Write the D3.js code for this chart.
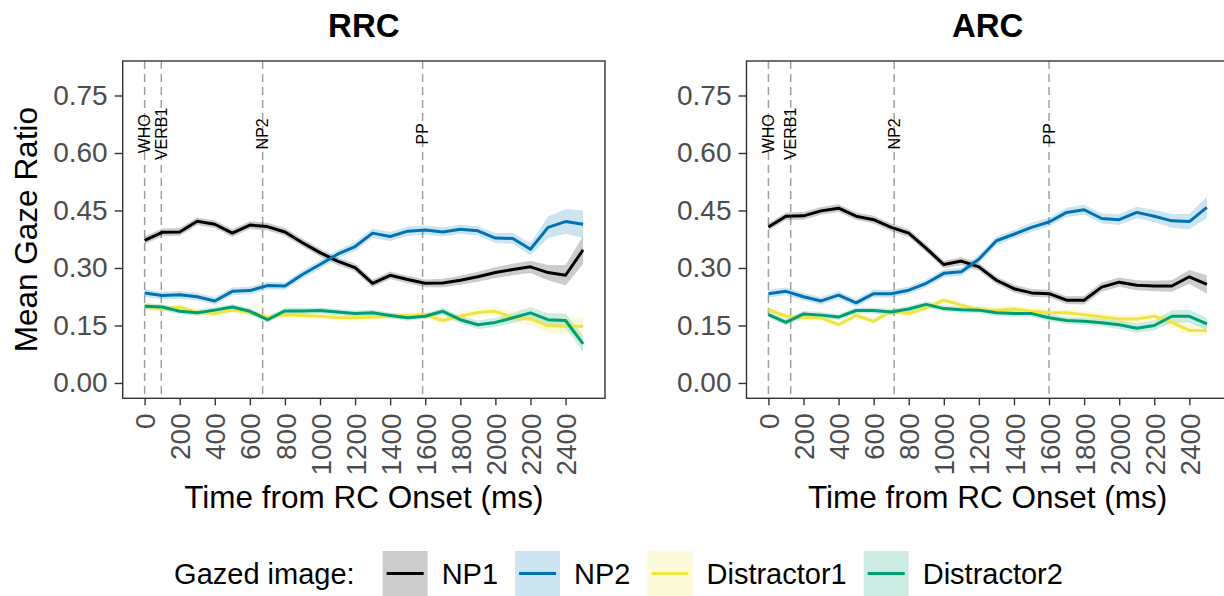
<!DOCTYPE html>
<html>
<head>
<meta charset="utf-8">
<script src="https://cdn.jsdelivr.net/npm/d3@7/dist/d3.min.js"></script>
<style>
  body { margin: 0; background: #fff; }
  svg { display: block; font-family: "Liberation Sans", Arial, Helvetica, sans-serif; }
</style>
</head>
<body>
<div id="chart"></div>
<script>
// time bins (ms from RC onset)
var timeMs = [0, 100, 200, 300, 400, 500, 600, 700, 800, 900, 1000, 1100, 1200,
  1300, 1400, 1500, 1600, 1700, 1800, 1900, 2000, 2100, 2200, 2300, 2400, 2500];

var seriesNames = ["NP1", "NP2", "Distractor1", "Distractor2"];
var seriesColors = ["#000000", "#0072B2", "#F0E442", "#009E73"];

var xTicks = [0, 200, 400, 600, 800, 1000, 1200, 1400, 1600, 1800, 2000, 2200, 2400];
var yTicks = [0, 0.15, 0.30, 0.45, 0.60, 0.75];

var eventLabels = ["WHO", "VERB1", "NP2", "PP"];
var rrcEventTimes = [0, 95, 673, 1585];
var arcEventTimes = [0, 127, 717, 1600];

// RRC panel: means and standard errors
var rrcNP1 = [0.372, 0.393, 0.394, 0.422, 0.414, 0.391, 0.412, 0.408, 0.394, 0.366, 0.340, 0.318, 0.301,
  0.260, 0.281, 0.270, 0.260, 0.261, 0.268, 0.277, 0.288, 0.296, 0.303, 0.288, 0.281, 0.347];
var rrcNP1Se = [0.010, 0.010, 0.010, 0.010, 0.010, 0.010, 0.010, 0.010, 0.010, 0.010, 0.010, 0.010, 0.010,
  0.010, 0.010, 0.010, 0.010, 0.011, 0.012, 0.013, 0.014, 0.015, 0.016, 0.020, 0.027, 0.036];
var rrcNP2 = [0.235, 0.228, 0.230, 0.225, 0.214, 0.239, 0.241, 0.254, 0.253, 0.283, 0.309, 0.336, 0.356,
  0.391, 0.382, 0.396, 0.399, 0.394, 0.401, 0.397, 0.378, 0.377, 0.349, 0.406, 0.421, 0.414];
var rrcNP2Se = [0.010, 0.010, 0.010, 0.010, 0.010, 0.010, 0.010, 0.010, 0.010, 0.011, 0.011, 0.011, 0.012,
  0.012, 0.012, 0.012, 0.012, 0.012, 0.012, 0.012, 0.013, 0.014, 0.016, 0.028, 0.032, 0.036];
var rrcD1 = [0.200, 0.193, 0.198, 0.184, 0.181, 0.190, 0.183, 0.172, 0.178, 0.176, 0.174, 0.171, 0.170,
  0.172, 0.174, 0.176, 0.178, 0.163, 0.174, 0.184, 0.187, 0.170, 0.167, 0.149, 0.148, 0.148];
var rrcD1Se = [0.008, 0.008, 0.008, 0.008, 0.008, 0.008, 0.008, 0.008, 0.008, 0.008, 0.008, 0.008, 0.008,
  0.008, 0.008, 0.008, 0.008, 0.009, 0.010, 0.011, 0.012, 0.013, 0.015, 0.018, 0.020, 0.024];
var rrcD2 = [0.200, 0.198, 0.187, 0.183, 0.190, 0.198, 0.187, 0.165, 0.188, 0.188, 0.189, 0.185, 0.181,
  0.183, 0.176, 0.170, 0.174, 0.187, 0.165, 0.152, 0.158, 0.170, 0.183, 0.165, 0.163, 0.102];
var rrcD2Se = [0.008, 0.008, 0.008, 0.008, 0.008, 0.008, 0.008, 0.008, 0.008, 0.008, 0.008, 0.008, 0.008,
  0.008, 0.008, 0.008, 0.008, 0.009, 0.010, 0.011, 0.012, 0.013, 0.015, 0.017, 0.018, 0.021];

// ARC panel: means and standard errors
var arcNP1 = [0.407, 0.435, 0.436, 0.449, 0.456, 0.435, 0.426, 0.406, 0.391, 0.351, 0.309, 0.318, 0.303,
  0.268, 0.246, 0.235, 0.233, 0.216, 0.216, 0.250, 0.263, 0.255, 0.253, 0.253, 0.277, 0.257];
var arcNP1Se = [0.010, 0.010, 0.010, 0.010, 0.010, 0.010, 0.010, 0.010, 0.010, 0.010, 0.010, 0.010, 0.010,
  0.010, 0.010, 0.010, 0.010, 0.010, 0.011, 0.012, 0.012, 0.013, 0.014, 0.015, 0.018, 0.024];
var arcNP2 = [0.233, 0.239, 0.225, 0.214, 0.229, 0.209, 0.233, 0.233, 0.242, 0.260, 0.286, 0.290, 0.323,
  0.371, 0.388, 0.406, 0.420, 0.445, 0.452, 0.429, 0.426, 0.445, 0.435, 0.423, 0.421, 0.458];
var arcNP2Se = [0.010, 0.010, 0.010, 0.010, 0.010, 0.010, 0.010, 0.010, 0.010, 0.010, 0.010, 0.010, 0.011,
  0.011, 0.011, 0.012, 0.012, 0.012, 0.013, 0.013, 0.014, 0.015, 0.016, 0.018, 0.020, 0.028];
var arcD1 = [0.191, 0.174, 0.170, 0.170, 0.152, 0.176, 0.161, 0.187, 0.181, 0.196, 0.216, 0.203, 0.191,
  0.190, 0.193, 0.187, 0.184, 0.183, 0.178, 0.172, 0.167, 0.167, 0.174, 0.158, 0.137, 0.137];
var arcD1Se = [0.008, 0.008, 0.008, 0.008, 0.008, 0.008, 0.008, 0.008, 0.008, 0.008, 0.009, 0.009, 0.009,
  0.009, 0.009, 0.009, 0.009, 0.009, 0.010, 0.010, 0.011, 0.011, 0.012, 0.013, 0.014, 0.016];
var arcD2 = [0.178, 0.158, 0.180, 0.177, 0.172, 0.189, 0.189, 0.185, 0.193, 0.205, 0.194, 0.191, 0.190,
  0.183, 0.181, 0.181, 0.170, 0.163, 0.161, 0.157, 0.152, 0.143, 0.150, 0.174, 0.174, 0.154];
var arcD2Se = [0.008, 0.008, 0.008, 0.008, 0.008, 0.008, 0.008, 0.008, 0.008, 0.008, 0.008, 0.008, 0.008,
  0.008, 0.008, 0.008, 0.009, 0.009, 0.010, 0.010, 0.011, 0.012, 0.013, 0.016, 0.017, 0.016];

var W = 1224, H = 596;
var PANEL_TOP = 61, PANEL_BOTTOM = 398.3, PANEL_W = 482.3;
var TICK_FONT = 28, TITLE_FONT = 31.5, LEGEND_FONT = 29;

var svg = d3.select("#chart").append("svg")
  .attr("width", W)
  .attr("height", H);

function drawPanel(left, title, means, ses, eventTimes) {
  var x = d3.scaleLinear().domain([-125, 2625]).range([left, left + PANEL_W]);
  var y = d3.scaleLinear().domain([-0.04, 0.84]).range([PANEL_BOTTOM, PANEL_TOP]);

  var g = svg.append("g");

  // panel title
  g.append("text")
    .attr("x", left + PANEL_W / 2)
    .attr("y", 36.5)
    .attr("text-anchor", "middle")
    .style("font-size", "33px")
    .style("font-weight", "bold")
    .text(title);

  // clip so ribbons can't leak out of the panel
  var clipId = "clip-" + title;
  g.append("clipPath").attr("id", clipId)
    .append("rect")
    .attr("x", left).attr("y", PANEL_TOP)
    .attr("width", PANEL_W).attr("height", PANEL_BOTTOM - PANEL_TOP);
  var plot = g.append("g").attr("clip-path", "url(#" + clipId + ")");

  // event markers
  eventTimes.forEach(function(t, i) {
    plot.append("line")
      .attr("x1", x(t)).attr("x2", x(t))
      .attr("y1", PANEL_TOP).attr("y2", PANEL_BOTTOM)
      .attr("stroke", "#a0a0a0")
      .attr("stroke-width", 1.5)
      .attr("stroke-dasharray", "8,5");
  });

  var rows = seriesNames.map(function(name, i) {
    return timeMs.map(function(t, j) {
      return { t: t, m: means[i][j], se: ses[i][j] };
    });
  });

  var area = d3.area()
    .x(function(d) { return x(d.t); })
    .y0(function(d) { return y(d.m - d.se); })
    .y1(function(d) { return y(d.m + d.se); });

  var line = d3.line()
    .x(function(d) { return x(d.t); })
    .y(function(d) { return y(d.m); });

  // ribbons first, then lines on top (same order as the ggplot layers)
  rows.forEach(function(r, i) {
    plot.append("path")
      .attr("d", area(r))
      .attr("fill", seriesColors[i])
      .attr("fill-opacity", 0.2);
  });
  rows.forEach(function(r, i) {
    plot.append("path")
      .attr("d", line(r))
      .attr("fill", "none")
      .attr("stroke", seriesColors[i])
      .attr("stroke-width", 3)
      .attr("stroke-linejoin", "round");
  });

  // event labels, rotated, centred on their line
  eventTimes.forEach(function(t, i) {
    g.append("text")
      .attr("transform", "translate(" + x(t) + "," + y(0.65) + ") rotate(-90)")
      .attr("text-anchor", "middle")
      .attr("dy", "0.35em")
      .style("font-size", "16px")
      .text(eventLabels[i]);
  });

  // axes
  var yAxis = g.append("g")
    .attr("transform", "translate(" + left + ",0)")
    .call(d3.axisLeft(y).tickValues(yTicks).tickFormat(d3.format(".2f")).tickSize(8).tickPadding(7));
  var xAxis = g.append("g")
    .attr("transform", "translate(0," + PANEL_BOTTOM + ")")
    .call(d3.axisBottom(x).tickValues(xTicks).tickFormat(d3.format("d")).tickSize(7));

  [yAxis, xAxis].forEach(function(a) {
    a.select(".domain").remove();
    a.selectAll(".tick line").attr("stroke", "#333333").attr("stroke-width", 1.4);
    a.selectAll(".tick text")
      .attr("fill", "#4d4d4d")
      .style("font-size", TICK_FONT + "px")
      .style("font-family", "'Liberation Sans', Arial, sans-serif");
  });

  xAxis.selectAll(".tick text")
    .attr("transform", "rotate(-90)")
    .attr("text-anchor", "end")
    .attr("x", -15)
    .attr("y", 0)
    .attr("dy", "0.36em");

  // panel border
  g.append("rect")
    .attr("x", left).attr("y", PANEL_TOP)
    .attr("width", PANEL_W).attr("height", PANEL_BOTTOM - PANEL_TOP)
    .attr("fill", "none")
    .attr("stroke", "#333333")
    .attr("stroke-width", 1.4);

  // x axis title
  g.append("text")
    .attr("x", left + PANEL_W / 2)
    .attr("y", 508)
    .attr("text-anchor", "middle")
    .style("font-size", TITLE_FONT + "px")
    .text("Time from RC Onset (ms)");
}

drawPanel(122.7, "RRC",
  [rrcNP1, rrcNP2, rrcD1, rrcD2],
  [rrcNP1Se, rrcNP2Se, rrcD1Se, rrcD2Se],
  rrcEventTimes);
drawPanel(746.5, "ARC",
  [arcNP1, arcNP2, arcD1, arcD2],
  [arcNP1Se, arcNP2Se, arcD1Se, arcD2Se],
  arcEventTimes);

// shared y title
svg.append("text")
  .attr("transform", "translate(36.5," + (PANEL_TOP + PANEL_BOTTOM) / 2 + ") rotate(-90)")
  .attr("text-anchor", "middle")
  .style("font-size", TITLE_FONT + "px")
  .text("Mean Gaze Ratio");

// legend along the bottom
var legend = svg.append("g");
var KEY = 45, KEY_Y = 551, LEGEND_MID = 573.5;
var cursor = 0;

var lt = legend.append("text")
  .attr("x", cursor).attr("y", LEGEND_MID)
  .attr("dy", "0.35em")
  .style("font-size", LEGEND_FONT + "px")
  .text("Gazed image:");
cursor += lt.node().getComputedTextLength() + 28;

seriesNames.forEach(function(name, i) {
  legend.append("rect")
    .attr("x", cursor).attr("y", KEY_Y)
    .attr("width", KEY).attr("height", KEY)
    .attr("fill", seriesColors[i])
    .attr("fill-opacity", 0.2);
  legend.append("line")
    .attr("x1", cursor + 4).attr("x2", cursor + KEY - 4)
    .attr("y1", LEGEND_MID).attr("y2", LEGEND_MID)
    .attr("stroke", seriesColors[i])
    .attr("stroke-width", 3);
  cursor += KEY + 14;
  var t = legend.append("text")
    .attr("x", cursor).attr("y", LEGEND_MID)
    .attr("dy", "0.35em")
    .style("font-size", LEGEND_FONT + "px")
    .text(name);
  cursor += t.node().getComputedTextLength() + 17;
});
cursor -= 17;
legend.attr("transform", "translate(" + (618.5 - cursor / 2) + ",0)");
</script>
</body>
</html>
